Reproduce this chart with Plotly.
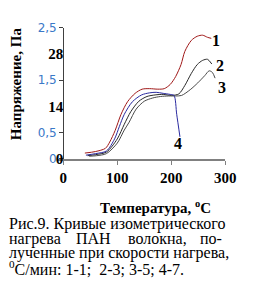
import plotly.graph_objects as go

# Data (temperature, °C ; stress, arbitrary units of left scale)
t1 = [40, 60, 78, 86, 96, 107, 119, 133, 146, 160, 175, 187, 198, 208, 218, 225, 237, 248, 258, 267, 274]
s1 = [0.11, 0.14, 0.20, 0.32, 0.54, 0.85, 1.09, 1.25, 1.33, 1.34, 1.33, 1.34, 1.42, 1.57, 1.80, 2.05, 2.26, 2.34, 2.36, 2.32, 2.30]

t2 = [45, 60, 80, 100, 113, 125, 140, 155, 170, 185, 200, 214, 225, 237, 248, 258, 267, 275]
s2 = [0.06, 0.08, 0.13, 0.38, 0.66, 0.90, 1.10, 1.19, 1.22, 1.23, 1.21, 1.24, 1.40, 1.63, 1.80, 1.88, 1.90, 1.81]

t3 = [48, 62, 80, 100, 113, 122, 135, 150, 165, 180, 195, 208, 219, 235, 249, 262, 270, 276, 281]
s3 = [0.05, 0.06, 0.10, 0.30, 0.55, 0.70, 0.95, 1.10, 1.16, 1.19, 1.20, 1.20, 1.21, 1.32, 1.45, 1.59, 1.68, 1.65, 1.54]

t4 = [42, 60, 80, 95, 104, 113, 128, 145, 160, 172, 185, 198, 205, 210, 216]
s4 = [0.07, 0.10, 0.15, 0.38, 0.62, 0.85, 1.09, 1.22, 1.26, 1.27, 1.25, 1.23, 1.21, 0.85, 0.42]

x_ticks = [0, 100, 200, 300]
y_ticks = [0, 0.5, 1.5, 2.5]
y_tick_text = ["0", "0,5", "1,5", "2,5"]
y2_ticks = [0, 14, 28]
y2_tick_text = ["0", "14", "28"]

curve_labels = ["1", "2", "3", "4"]
label_x = [283, 291, 294, 212]
label_y = [2.26, 1.78, 1.36, 0.29]

caption_lines = [
    "Рис.9. Кривые изометрического",
    None,
    "лученные при скорости нагрева,",
    "<sup>0</sup>С/мин: 1-1;  2-3; 3-5; 4-7.",
]
caption_line2_words = ["нагрева", "ПАН", "волокна,", "по-"]

W, H = 255, 294
SERIF = "Liberation Serif"

def px(xp):
    return xp / W

def py(yp):
    return (H - yp) / H

fig = go.Figure()
colors = ["#a01818", "#2a2a2a", "#4a4a4a", "#2a2aa0"]
for t, s, c in zip([t1, t2, t3, t4], [s1, s2, s3, s4], colors):
    fig.add_trace(go.Scatter(x=t, y=s, mode="lines", line=dict(color=c, width=1, shape="spline", smoothing=0.8),
                             showlegend=False, hoverinfo="skip"))
fig.add_trace(go.Scatter(x=[], y=[], yaxis="y2", showlegend=False))

fig.update_layout(
    width=W, height=H,
    margin=dict(l=0, r=0, t=0, b=0),
    paper_bgcolor="white", plot_bgcolor="white",
    xaxis=dict(domain=[px(61), px(235.5)], range=[-9, 300], tickvals=x_ticks,
               showline=True, linecolor="#808080", linewidth=2, ticks="outside", ticklen=4,
               tickcolor="#808080", showgrid=False, zeroline=False,
               tickfont=dict(family=SERIF, size=15, color="black", weight="bold"),
               anchor="y"),
    yaxis=dict(domain=[py(160), py(22)], range=[0, 2.5], tickvals=y_ticks, ticktext=y_tick_text,
               anchor="free", position=px(66), showline=True, linecolor="#404040", linewidth=1,
               ticks="outside", ticklen=4, tickcolor="#404040", showgrid=False, zeroline=False,
               tickfont=dict(family="DejaVu Sans", size=12, color="#3a78c8")),
    yaxis2=dict(overlaying="y", range=[0, 35], tickvals=y2_ticks, ticktext=y2_tick_text,
                anchor="free", position=px(66), side="left", showline=False, ticks="", showgrid=False,
                zeroline=False, tickfont=dict(family=SERIF, size=15, color="black", weight="bold")),
)

for lab, lx, ly in zip(curve_labels, label_x, label_y):
    fig.add_annotation(x=lx, y=ly, text=lab, showarrow=False, xref="x", yref="y",
                       xanchor="center", yanchor="middle",
                       font=dict(family=SERIF, size=16, color="black", weight="bold"))

fig.add_annotation(x=px(17), y=py(81), xref="paper", yref="paper", text="Напряжение, Па", textangle=-90,
                   xanchor="center", yanchor="middle",
                   showarrow=False, font=dict(family=SERIF, size=15, color="black", weight="bold"))
fig.add_annotation(x=px(162), y=py(211), xref="paper", yref="paper", text="Температура, <sup>o</sup>C",
                   xanchor="center", yanchor="middle",
                   showarrow=False, font=dict(family=SERIF, size=15, color="black", weight="bold"))

line_y = [229, 244, 259, 275]
for text, yy in zip(caption_lines, line_y):
    if text is None:
        continue
    fig.add_annotation(x=px(7), y=py(yy), xref="paper", yref="paper", text=text, xanchor="left",
                       yanchor="middle", showarrow=False, font=dict(family=SERIF, size=16, color="black"))
word_x = [7, 77, 132, 207]
for w, xx in zip(caption_line2_words, word_x):
    fig.add_annotation(x=px(xx), y=py(line_y[1]), xref="paper", yref="paper", text=w, xanchor="left",
                       yanchor="middle", showarrow=False, font=dict(family=SERIF, size=16, color="black"))

fig.write_html("out.html")
